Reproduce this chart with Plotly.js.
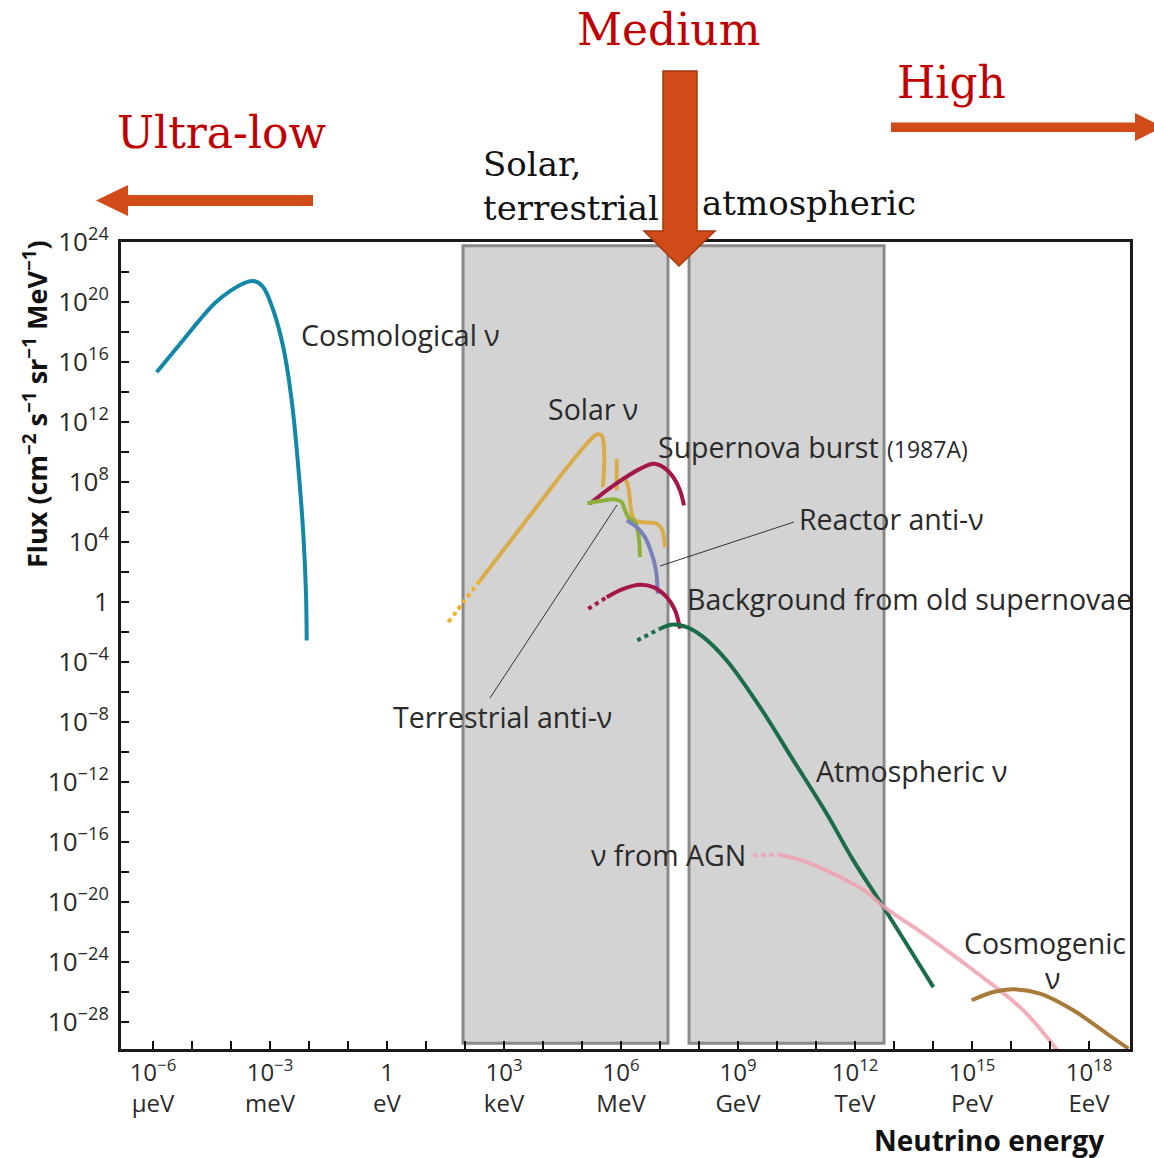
<!DOCTYPE html>
<html><head><meta charset="utf-8">
<script src="https://cdn.plot.ly/plotly-3.0.1.min.js"></script>
<style>html,body{margin:0;padding:0;background:#fff;overflow:hidden}</style>
</head><body>
<div id="chart" style="width:1154px;height:1158px"></div>
<script>
// ---------- axis ticks ----------
const xTickVals = [1e-6,1e-3,1,1e3,1e6,1e9,1e12,1e15,1e18];
const xTickText = ['10<sup>−6</sup><br>μeV','10<sup>−3</sup><br>meV','1<br>eV','10<sup>3</sup><br>keV','10<sup>6</sup><br>MeV','10<sup>9</sup><br>GeV','10<sup>12</sup><br>TeV','10<sup>15</sup><br>PeV','10<sup>18</sup><br>EeV'];
const xMinorVals = [1e-5,1e-4,1e-2,1e-1,1e1,1e2,1e4,1e5,1e7,1e8,1e10,1e11,1e13,1e14,1e16,1e17];
const yTickVals = [1e-28,1e-24,1e-20,1e-16,1e-12,1e-8,1e-4,1,1e4,1e8,1e12,1e16,1e20,1e24];
const yTickText = ['10<sup>−28</sup>','10<sup>−24</sup>','10<sup>−20</sup>','10<sup>−16</sup>','10<sup>−12</sup>','10<sup>−8</sup>','10<sup>−4</sup>','1','10<sup>4</sup>','10<sup>8</sup>','10<sup>12</sup>','10<sup>16</sup>','10<sup>20</sup>','10<sup>24</sup>'];
const yMinorVals = [1e-26,1e-22,1e-18,1e-14,1e-10,1e-6,1e-2,1e2,1e6,1e10,1e14,1e18,1e22];

// ---------- spectra (energy in eV, flux) ----------
const cosmoE    = [1.24e-6,4.92e-6,1.60e-5,3.89e-5,9.42e-5,2.53e-4,4.12e-4,6.73e-4,1.22e-3,2.19e-3,3.6e-3,5.32e-3,7.14e-3,8.38e-3,8.73e-3];
const cosmoF    = [2.14e15,1.63e17,7.03e18,8.85e19,5.58e20,2.22e21,2.51e21,1.0e21,2.82e19,1.0e17,2.82e13,1.0e9,3.63e4,3.63,2.82e-3];

const solarDotE = [37.3,94.2,243];
const solarDotF = [4.68e-2,1.12,28.2];
const solarE    = [243,1730,1.24e4,4.92e4,1.32e5,2.38e5,3.2e5,3.66e5,3.66e5,3.4e5];
const solarF    = [28.2,2.14e4,1.70e7,1.70e9,3.63e10,1.51e11,1.29e11,2.14e10,6.03e8,4.68e7];
const solarLineE = [7.76e5,7.76e5];
const solarLineF = [3.63e9,2.82e7];
const solarB8E  = [1.27e6,1.54e6,1.70e6,1.88e6,2.29e6,3.73e6,8.22e6,1.11e7,1.34e7];
const solarB8F  = [2.14e8,4.68e7,6.03e6,7.76e5,2.82e5,2.14e5,1.70e5,7.76e4,4.68e3];

const snBurstE  = [1.60e5,4.3e5,1.15e6,3.07e6,6.73e6,1.22e7,2.19e7,3.26e7,4.12e7];
const snBurstF  = [3.63e6,2.82e7,1.70e8,7.76e8,1.70e9,1.0e9,2.14e8,2.82e7,2.82e6];

const terrE     = [1.37e5,3.52e5,7.02e5,1.04e6,1.27e6,1.54e6,2.29e6,2.78e6,3.07e6];
const terrF     = [3.98e6,6.03e6,7.08e6,4.68e6,1.29e6,4.68e5,2.14e5,3.63e4,1.0e3];

const reactE    = [1.40e6,2.53e6,4.12e6,6.12e6,7.89e6,8.73e6];
const reactF    = [2.82e5,1.0e5,2.14e4,1.70e3,129,3.63];

const oldSnDotE = [1.45e5,4.3e5];
const oldSnDotF = [0.363,2.14];
const oldSnE    = [4.3e5,1.15e6,3.07e6,6.73e6,1.49e7,2.43e7,3.26e7];
const oldSnF    = [2.14,7.76,14.5,10,2.14,0.282,1.70e-2];

const atmDotE   = [2.62e6,1.0e7];
const atmDotF   = [2.82e-3,1.70e-2];
const atmE      = [1.0e7,2.19e7,4.84e7,1.29e8,5.13e8,3.66e9,2.62e10,1.88e11,9.04e11,5.32e12,1.02e14];
const atmF      = [1.70e-2,3.24e-2,2.14e-2,4.68e-3,1.29e-4,1.0e-7,2.82e-11,7.76e-15,6.03e-18,4.68e-21,2.14e-26];

const agnDotE   = [2.47e9,1.08e10];
const agnDotF   = [1.29e-17,1.45e-17];
const agnE      = [1.08e10,5.78e10,4.12e11,2.0e12,5.32e12,5.64e13,1.08e15,2.07e16,1.82e17];
const agnF      = [1.45e-17,4.68e-18,4.68e-19,4.68e-20,5.13e-21,7.76e-23,2.82e-25,6.03e-28,7.08e-31];

const cosmogE   = [9.82e14,3.52e15,1.15e16,5.55e16,3.95e17,2.84e18,1.02e19];
const cosmogF   = [2.82e-27,1.0e-26,1.51e-26,7.76e-27,6.03e-28,1.70e-29,1.70e-30];

// observation windows (energy in eV)
const bandSolarTerr = [88.9, 1.6e7];
const bandAtm       = [5.55e7, 5.55e12];
const bandFlux      = [3.8e-30, 6.0e23];

// ---------- layout helpers (pixel -> paper) ----------
const L = 121, T = 242, W = 1009, H = 807;
const px = x => (x - L) / W;
const py = y => 1 - (y - T) / H;
const pt = (x, y) => px(x).toFixed(5) + ',' + py(y).toFixed(5);

function line(x, y, color, dash) {
  return {
    x: x, y: y, type: 'scatter', mode: 'lines', hoverinfo: 'skip', showlegend: false,
    line: {color: color, width: 4, dash: dash || 'solid', shape: 'spline', smoothing: 1}
  };
}

const traces = [
  line(cosmoE, cosmoF, '#1387a8'),
  line(solarDotE, solarDotF, '#f0b22a', 'dot'),
  line(solarE, solarF, '#d9ab49'),
  line(solarLineE, solarLineF, '#d9ab49'),
  line(solarB8E, solarB8F, '#d9ab49'),
  line(snBurstE, snBurstF, '#a3174b'),
  line(terrE, terrF, '#8cb03a'),
  line(reactE, reactF, '#7a80b8'),
  line(oldSnDotE, oldSnDotF, '#a3174b', 'dot'),
  line(oldSnE, oldSnF, '#a3174b'),
  line(atmDotE, atmDotF, '#1b6c48', 'dot'),
  line(atmE, atmF, '#1b6c48'),
  line(agnDotE, agnDotF, 'rgba(238,160,175,0.85)', 'dot'),
  line(agnE, agnF, 'rgba(238,160,175,0.85)'),
  line(cosmogE, cosmogF, '#a87b3a')
];

const sansFont = 'Open Sans, Noto Sans, sans-serif';
const serifFont = 'DejaVu Serif, Liberation Serif, serif';
const txtCol = '#2a2a2a';
const red = '#c00000';
const arrowCol = '#d14b19';
const LS = 28.5;

function lab(text, x, y, size, anchor, extra) {
  return Object.assign({
    text: text, xref: 'paper', yref: 'paper', x: px(x), y: py(y),
    xanchor: anchor || 'left', yanchor: 'middle', showarrow: false,
    font: {family: sansFont, size: size || LS, color: txtCol}
  }, extra || {});
}

const annotations = [
  lab('Cosmological ν', 299, 335),
  lab('Solar ν', 546, 409),
  lab('Supernova burst', 656, 447),
  lab('(1987A)', 885, 449, 23),
  lab('Reactor anti-ν', 797, 519),
  lab('Background from old supernovae', 685, 599),
  lab('Terrestrial anti-ν', 391, 717),
  lab('Atmospheric ν', 814, 771),
  lab('ν from AGN', 589, 855),
  lab('Cosmogenic', 1045, 943, LS, 'center'),
  lab('ν', 1052, 978, LS, 'center'),
  lab('Medium', 668, 30, 44, 'center', {font: {family: serifFont, size: 44, color: red}}),
  lab('Ultra-low', 222, 133, 44, 'center', {font: {family: serifFont, size: 44, color: red}}),
  lab('High', 951, 82, 44, 'center', {font: {family: serifFont, size: 44, color: red}}),
  lab('Solar,<br>terrestrial', 481, 186, 34, 'left', {align: 'left', font: {family: serifFont, size: 34, color: '#111'}}),
  lab('atmospheric', 700, 203, 34, 'left', {font: {family: serifFont, size: 34, color: '#111'}}),
  lab('<b>Flux (cm<sup>−2</sup> s<sup>−1</sup> sr<sup>−1</sup> MeV<sup>−1</sup>)</b>', 35, 404, 27, 'center',
      {textangle: -90, font: {family: sansFont, size: 27, color: '#111'}}),
  lab('<b>Neutrino energy</b>', 1106, 1140, 28, 'right', {font: {family: sansFont, size: 28, color: '#111'}})
];

const shapes = [
  {type: 'rect', xref: 'x', yref: 'y', x0: bandSolarTerr[0], x1: bandSolarTerr[1], y0: bandFlux[0], y1: bandFlux[1],
   fillcolor: '#d3d3d3', line: {color: '#8a8a8a', width: 3}, layer: 'below'},
  {type: 'rect', xref: 'x', yref: 'y', x0: bandAtm[0], x1: bandAtm[1], y0: bandFlux[0], y1: bandFlux[1],
   fillcolor: '#d3d3d3', line: {color: '#8a8a8a', width: 3}, layer: 'below'},
  // leader lines
  {type: 'line', xref: 'paper', yref: 'paper', x0: px(794), y0: py(522), x1: px(660), y1: py(566),
   line: {color: '#333', width: 1}},
  {type: 'line', xref: 'paper', yref: 'paper', x0: px(617), y0: py(505), x1: px(490), y1: py(698),
   line: {color: '#333', width: 1}},
  // arrows
  {type: 'path', xref: 'paper', yref: 'paper', layer: 'above', fillcolor: arrowCol, line: {width: 0},
   path: 'M' + pt(313,195) + ' L' + pt(128,195) + ' L' + pt(128,185) + ' L' + pt(96,200.5) + ' L' + pt(128,216) + ' L' + pt(128,206) + ' L' + pt(313,206) + ' Z'},
  {type: 'path', xref: 'paper', yref: 'paper', layer: 'above', fillcolor: arrowCol, line: {width: 0},
   path: 'M' + pt(891,122.5) + ' L' + pt(1135,122.5) + ' L' + pt(1135,113) + ' L' + pt(1163,127) + ' L' + pt(1135,141) + ' L' + pt(1135,132) + ' L' + pt(891,132) + ' Z'},
  {type: 'path', xref: 'paper', yref: 'paper', layer: 'above', fillcolor: arrowCol, line: {color: '#a23a12', width: 1.5},
   path: 'M' + pt(663,71) + ' L' + pt(697,71) + ' L' + pt(697,231) + ' L' + pt(715,231) + ' L' + pt(679,266) + ' L' + pt(644,231) + ' L' + pt(663,231) + ' Z'}
];

const axisCommon = {
  type: 'log', ticks: 'inside', ticklen: 8, tickwidth: 2, tickcolor: '#111',
  showline: true, linewidth: 3, linecolor: '#1a1a1a', mirror: true,
  showgrid: false, zeroline: false
};

const layout = {
  width: 1154, height: 1158,
  margin: {l: L, r: 1154 - L - W, t: T, b: 1158 - T - H, pad: 0},
  paper_bgcolor: '#fff', plot_bgcolor: '#fff',
  showlegend: false,
  xaxis: Object.assign({}, axisCommon, {
    range: [-6.82, 19.05], tickmode: 'array', tickvals: xTickVals, ticktext: xTickText, tickangle: 0,
    tickfont: {family: sansFont, size: 24, color: txtCol},
    minor: {tickmode: 'array', tickvals: xMinorVals, ticks: 'inside', ticklen: 8, tickwidth: 2, tickcolor: '#111', showgrid: false}
  }),
  yaxis: Object.assign({}, axisCommon, {
    range: [-29.8, 24.02], tickmode: 'array', tickvals: yTickVals, ticktext: yTickText, ticklabelstandoff: 4,
    tickfont: {family: sansFont, size: 26, color: txtCol},
    minor: {tickmode: 'array', tickvals: yMinorVals, ticks: 'inside', ticklen: 8, tickwidth: 2, tickcolor: '#111', showgrid: false}
  }),
  shapes: shapes,
  annotations: annotations
};

Plotly.newPlot('chart', traces, layout, {staticPlot: true, displayModeBar: false});
</script>
</body></html>
